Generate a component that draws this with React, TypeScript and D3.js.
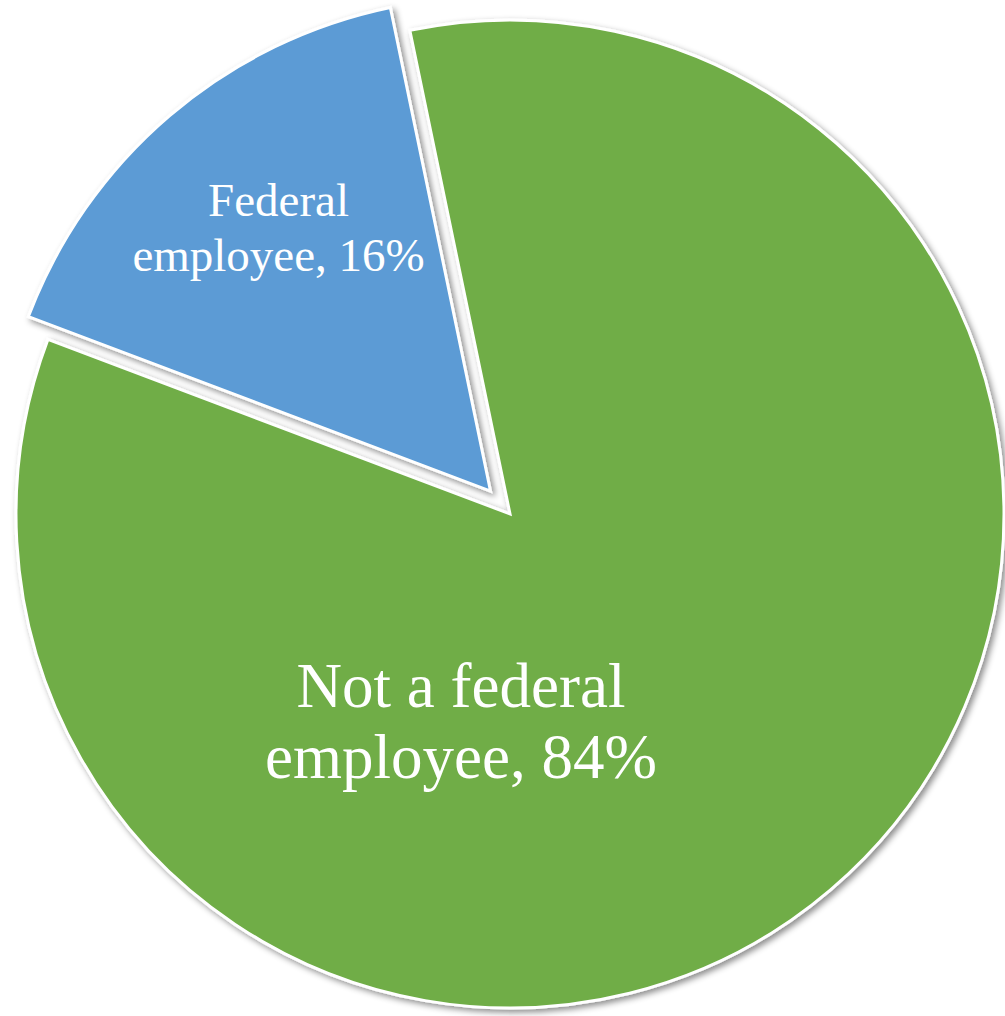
import React from "react";
import * as d3 from "d3";

// Share of respondents by employment status
const categories = ["Federal employee", "Not a federal employee"];
const shares = [16, 84];
const colors = ["#5B9BD5", "#70AD47"];

const WIDTH = 1005;
const HEIGHT = 1016;
const CX = 510;
const CY = 514;
const RADIUS = 494;
const EXPLODE = 30; // pull-out distance for the first slice
const START = (-69.3 * Math.PI) / 180;

export default function App() {
  const pie = d3
    .pie<number>()
    .sort(null)
    .value((d) => d)
    .startAngle(START)
    .endAngle(START + 2 * Math.PI);
  const arcs = pie(shares);
  const arcGen = d3.arc<d3.PieArcDatum<number>>().innerRadius(0).outerRadius(RADIUS);

  const offsetOf = (a: d3.PieArcDatum<number>, i: number) => {
    if (i !== 0) return [0, 0];
    const mid = (a.startAngle + a.endAngle) / 2;
    return [Math.sin(mid) * EXPLODE, -Math.cos(mid) * EXPLODE];
  };

  // label anchors: blue label on its centroid ring, green label below centre
  const labelPos = (a: d3.PieArcDatum<number>, i: number) => {
    const [ox, oy] = offsetOf(a, i);
    if (i === 0) {
      const mid = (a.startAngle + a.endAngle) / 2;
      const r = RADIUS * 0.67;
      return [ox + Math.sin(mid) * r + 3, oy - Math.cos(mid) * r];
    }
    return [-49, 223];
  };

  const labelLines = (i: number) => {
    const pct = `${shares[i]}%`;
    if (i === 0) return ["Federal", `employee, ${pct}`];
    return ["Not a federal", `employee, ${pct}`];
  };
  const fontSizes = [47, 63];
  const lineGaps = [55, 71];

  return (
    <svg
      width={WIDTH}
      height={HEIGHT}
      style={{ position: "absolute", left: 0, top: 0, background: "#fff" }}
    >
      <defs>
        <filter id="sliceShadow" x="-10%" y="-10%" width="120%" height="120%">
          <feDropShadow dx="3" dy="3" stdDeviation="3" floodColor="#000" floodOpacity="0.45" />
        </filter>
      </defs>
      <g transform={`translate(${CX},${CY})`}>
        {arcs
          .map((a, i) => ({ a, i }))
          .reverse()
          .map(({ a, i }) => {
            const [ox, oy] = offsetOf(a, i);
            return (
              <path
                key={categories[i]}
                d={arcGen(a) || ""}
                transform={`translate(${ox},${oy})`}
                fill={colors[i]}
                stroke="#fff"
                strokeWidth={3}
                strokeLinejoin="miter"
                filter="url(#sliceShadow)"
              />
            );
          })}
        {arcs.map((a, i) => {
          const [lx, ly] = labelPos(a, i);
          const lines = labelLines(i);
          const fs = fontSizes[i];
          const gap = lineGaps[i];
          return (
            <text
              key={`label-${categories[i]}`}
              x={lx}
              y={ly}
              textAnchor="middle"
              fill="#fff"
              fontFamily="'Liberation Serif', 'Times New Roman', serif"
              fontSize={fs}
            >
              {lines.map((t, k) => (
                <tspan key={k} x={lx} y={ly + (k - (lines.length - 1) / 2) * gap + fs * 0.08}>
                  {t}
                </tspan>
              ))}
            </text>
          );
        })}
      </g>
    </svg>
  );
}
